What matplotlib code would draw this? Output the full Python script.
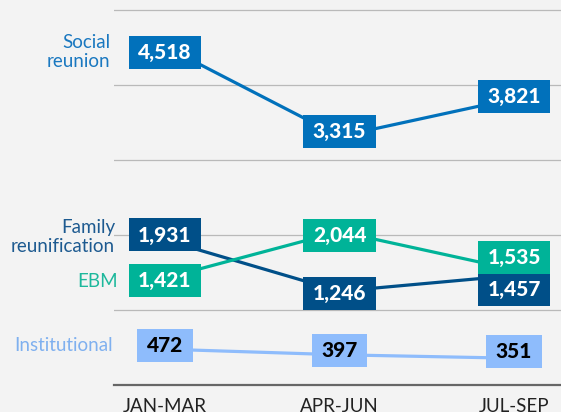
import matplotlib
matplotlib.use("Agg")
import matplotlib.pyplot as plt
import matplotlib.transforms as mtransforms
from matplotlib.patches import Rectangle

# ---- data ----
periods = ["JAN-MAR", "APR-JUN", "JUL-SEP"]
social = [4518, 3315, 3821]
family = [1931, 1246, 1457]
ebm = [1421, 2044, 1535]
institutional = [472, 397, 351]
names = ["Social\nreunion", "Family\nreunification", "EBM", "Institutional"]

# ---- style ----
BG = "#f3f3f3"
colors = ["#0171bb", "#004f88", "#00b398", "#8ebcfc"]
name_colors = ["#1a78c0", "#1d5a90", "#1db89c", "#7fb0ef"]
text_colors = ["white", "white", "white", "black"]
# vertical offset of value boxes (pixels, positive = down)
box_offsets = [[6.5, -5, -2], [-5, 2, 14], [2, 3.6, -12.4], [-4, -4, -7]]
# name label offsets (pixels right, pixels up) relative to first point
name_offsets = [(-55, -5.5), (-50, 3), (-47, -3.6), (-52, 3.6)]

DPI = 100
W, H = 561, 412
plt.rcParams['font.family'] = ['Lato', 'DejaVu Sans']
fig = plt.figure(figsize=(W / DPI, H / DPI), dpi=DPI, facecolor=BG)
ax = fig.add_axes([114 / W, 27.5 / H, 447 / W, 384.5 / H])
ax.set_facecolor(BG)

x = list(range(len(periods)))
ax.set_xlim(-0.292, 2.269)
ax.set_ylim(0, 5138)
for v in [1000, 2000, 3000, 4000, 5000]:
    ax.axhline(v, color="#b9b9b9", lw=0.9, zorder=0)
ax.axhline(0, color="#666666", lw=1.6, zorder=1, clip_on=False)
for s in ax.spines.values():
    s.set_visible(False)
ax.set_yticks([])
ax.set_xticks(x)
ax.set_xticklabels(periods, fontsize=13.5, color="#222222")
ax.tick_params(axis='x', length=0, pad=10)

all_series = [social, family, ebm, institutional]
renderer = fig.canvas.get_renderer()
zo = 3
for i, vals in enumerate(all_series):
    ax.plot(x, vals, color=colors[i], lw=2.3, zorder=2, solid_capstyle='butt')
    for j, v in enumerate(vals):
        d = box_offsets[i][j]
        base = mtransforms.ScaledTranslation(x[j], v, ax.transData)
        ttrans = ax.transData + mtransforms.ScaledTranslation(0, (-d - 6.5) / DPI, fig.dpi_scale_trans)
        t = ax.text(x[j], v, f"{v:,}", transform=ttrans, ha='center', va='baseline',
                    fontsize=15, fontweight=900, color=text_colors[i], zorder=zo + 1)
        bb = t.get_window_extent(renderer)
        w = bb.width + 19
        r = Rectangle((-w / 2 / DPI, (-d - 16.5) / DPI), w / DPI, 33 / DPI,
                      transform=fig.dpi_scale_trans + base, facecolor=colors[i],
                      edgecolor='none', zorder=zo, clip_on=False)
        ax.add_patch(r)
        zo += 2
    dx, dy = name_offsets[i]
    ax.annotate(names[i], xy=(x[0], vals[0]), xycoords='data', xytext=(dx, dy),
                textcoords='offset pixels', ha='right', va='center', fontsize=13.5,
                color=name_colors[i], linespacing=1.1, annotation_clip=False)

fig.savefig("out.png", dpi=DPI, facecolor=BG)
